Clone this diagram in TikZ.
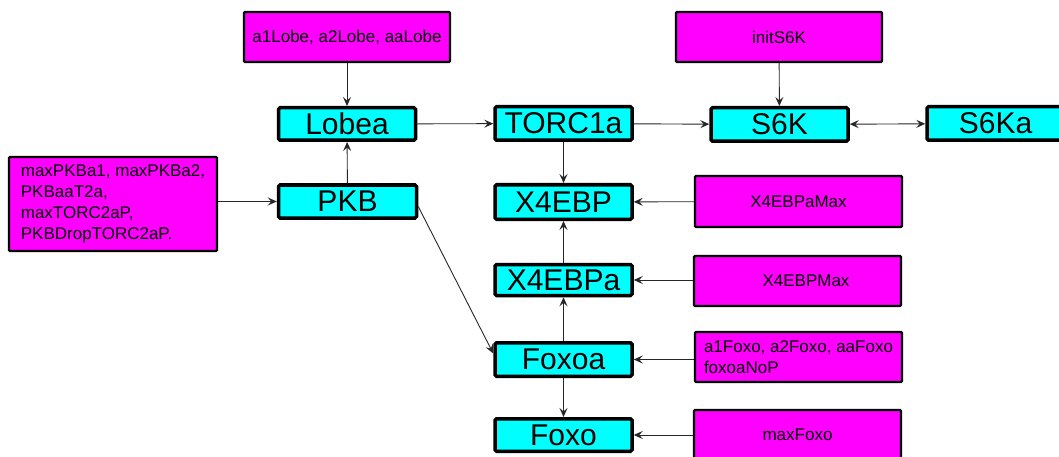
\documentclass[tikz,border=0pt]{standalone}
\usepackage{fontspec}
\setmainfont{Liberation Sans}
\usetikzlibrary{arrows.meta}
\definecolor{cy}{RGB}{0,255,255}
\definecolor{mg}{RGB}{255,0,255}
\begin{document}
\begin{tikzpicture}[x=1pt,y=-1pt,
  species/.style={draw=black, line width=3.5pt, fill=cy, rounded corners=1.5pt,
    minimum width=137pt, minimum height=33pt, inner sep=0pt,
    font=\fontsize{30}{32}\selectfont},
  param/.style={draw=black, line width=2.2pt, fill=mg, rounded corners=1pt,
    inner sep=0pt, minimum width=206pt, minimum height=50pt,
    font=\fontsize{17}{21}\selectfont},
  tip/.tip={Stealth[length=9pt,width=8pt,inset=3.5pt]},
  arr/.style={line width=0.9pt, draw=black!85, -tip},
  biarr/.style={line width=0.9pt, draw=black!85, tip-tip}]
\useasboundingbox (0,0) rectangle (1059,457);
\clip (0,0) rectangle (1059,457);

% species
\node[species, minimum height=32.5pt] (Lobea) at (347,124) {Lobea};
\node[species, minimum width=138pt] (PKB) at (347.5,201.5) {PKB};
\node[species, minimum height=33.5pt] (TORC) at (563.5,123.5) {TORC1a};
\node[species, minimum height=34.5pt] (X4EBP) at (563.5,202) {X4EBP};
\node[species, minimum height=31pt] (X4EBPa) at (563.5,280) {X4EBPa};
\node[species, minimum height=33.5pt] (Foxoa) at (563.5,359.5) {Foxoa};
\node[species, minimum height=32.5pt] (Foxo) at (563.5,435) {Foxo};
\node[species, minimum height=33.5pt] (S6K) at (779.5,124.5) {S6K};
\node[species, minimum height=33.5pt] (S6Ka) at (995.5,123.5) {S6Ka};

% parameters
\node[param] (pLobe) at (347,37) {a1Lobe, a2Lobe, aaLobe};
\node[param] (pS6K) at (779,37) {initS6K};
\node[param, minimum width=208pt, minimum height=94pt, align=left,
  font=\fontsize{17}{21}\selectfont] (pPKB) at (113,204)
  {maxPKBa1, maxPKBa2,\\PKBaaT2a,\\maxTORC2aP,\\PKBDropTORC2aP.};
\node[param, minimum width=207pt, minimum height=51pt] (pX4EBPaMax) at (798.5,201.5) {X4EBPaMax};
\node[param, minimum width=207pt, minimum height=50pt] (pX4EBPMax) at (797.5,281) {\hspace*{17pt}X4EBPMax};
\node[param, minimum width=207pt, minimum height=50pt, align=left] (pFoxoa) at (798.5,357)
  {a1Foxo, a2Foxo, aaFoxo\\foxoaNoP};
\node[param, minimum width=207pt, minimum height=50pt] (pFoxo) at (797.5,435) {maxFoxo};

% connectors
\draw[arr] (pLobe) -- (Lobea);
\draw[arr] (PKB) -- (Lobea);
\draw[arr] (pPKB.east |- PKB.west) -- (PKB.west);
\draw[arr] (Lobea) -- (TORC);
\draw[arr] (TORC) -- (S6K);
\draw[biarr] (S6K) -- (S6Ka);
\draw[arr] (pS6K) -- (S6K);
\draw[arr] (TORC) -- (X4EBP);
\draw[arr] (X4EBPa) -- (X4EBP);
\draw[arr] (Foxoa) -- (X4EBPa);
\draw[arr] (Foxoa) -- (Foxo);
\draw[arr] (pX4EBPaMax) -- (X4EBP);
\draw[arr] (pX4EBPMax.west |- X4EBPa.east) -- (X4EBPa.east);
\draw[arr] (pFoxoa.west |- Foxoa.east) -- (Foxoa.east);
\draw[arr] (pFoxo) -- (Foxo);
\draw[arr] ([yshift=-5pt]PKB.east) -- ([yshift=6pt]Foxoa.west);
\end{tikzpicture}
\end{document}
